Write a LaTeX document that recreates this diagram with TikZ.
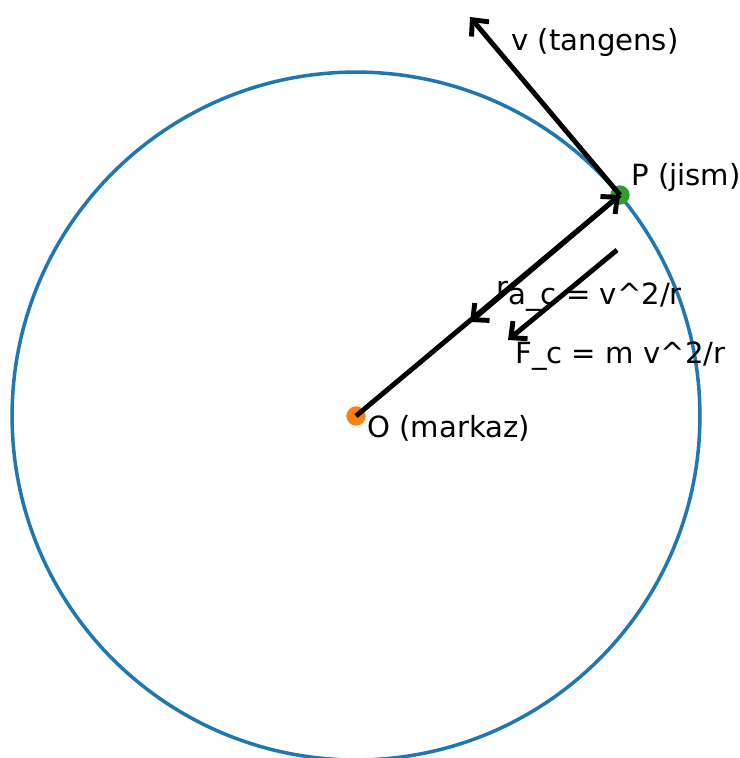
\documentclass[tikz,border=0pt]{standalone}
\usepackage{fontspec}
\setmainfont{DejaVu Sans}
\usetikzlibrary{arrows.meta}
\definecolor{mplblue}{HTML}{1F77B4}
\definecolor{mplorange}{HTML}{FF7F0E}
\definecolor{mplgreen}{HTML}{2CA02C}
\tikzset{
  vec/.style={line width=2.8pt,-{Straight Barb[length=7pt,width=13pt]}},
  lbl/.style={anchor=base west,inner sep=0pt,font=\fontsize{16.6}{19}\selectfont},
  dot/.style={circle,inner sep=0pt,minimum size=11pt}
}
\begin{document}
\begin{tikzpicture}[x=0.02cm,y=-0.02cm]
\useasboundingbox (0,0) rectangle (740,758);
% circle
\coordinate (O) at (356,416);
\coordinate (P) at (620,195);
\draw[mplblue,line width=2pt] (O) circle[radius=6.88cm];
\node[dot,fill=mplorange] (Odot) at (O) {};
\node[dot,fill=mplgreen] (Pdot) at (P) {};
% vectors
\coordinate (vtip) at (470,17);
\coordinate (atip) at (470,322);
\coordinate (Fstart) at (617,250);
\coordinate (Ftip) at (508,340);
\draw[vec] (O) -- (P);
\draw[vec] (P) -- (vtip);
\draw[vec] (P) -- (atip);
\draw[vec] (Fstart) -- (Ftip);
% labels
\node[lbl] (vlbl) at (511,50) {v (tangens)};
\node[lbl] (Plbl) at (631,185) {P (jism)};
\node[lbl] (rlbl) at (496,297) {r};
\node[lbl] (albl) at (508,304) {a\_c = v\textasciicircum 2/r};
\node[lbl] (Flbl) at (515,363) {F\_c = m v\textasciicircum 2/r};
\node[lbl] (Olbl) at (367,437) {O (markaz)};
\end{tikzpicture}
\end{document}
